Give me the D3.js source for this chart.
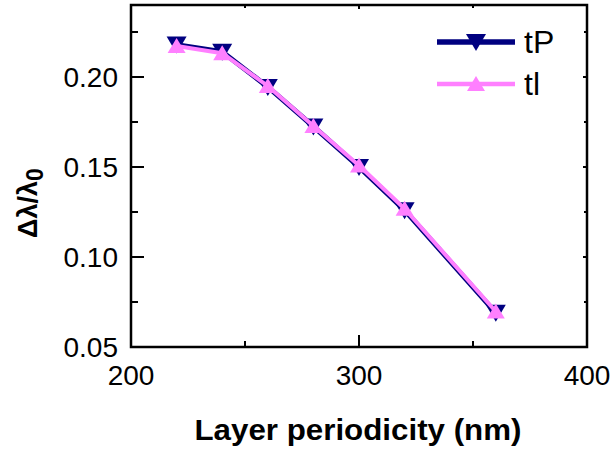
<!DOCTYPE html>
<html>
<head>
<meta charset="utf-8">
<script src="https://cdn.jsdelivr.net/npm/d3@7"></script>
<style>
  body { margin: 0; background: #fff; }
  text { font-family: "Liberation Sans", Arial, sans-serif; fill: #000; }
</style>
</head>
<body>
<svg id="chart" width="613" height="452"></svg>
<script>
// data
const periods = [220, 240, 260, 280, 300, 320, 360];
const tP = [0.2180, 0.2140, 0.1945, 0.1725, 0.1500, 0.1260, 0.0690];
const tl = [0.2172, 0.2132, 0.1950, 0.1728, 0.1508, 0.1268, 0.0697];
const xTicks = [200, 300, 400];
const xMinor = [250, 350];
const yTicks = [0.05, 0.10, 0.15, 0.20];
const yMinor = [0.075, 0.125, 0.175, 0.225];

const svg = d3.select("#chart");
const plotL = 131, plotR = 587, plotT = 5, plotB = 347;

const x = d3.scaleLinear().domain([200, 400]).range([plotL, plotR]);
const y = d3.scaleLinear().domain([0.05, 0.24]).range([plotB, plotT]);

// frame
svg.append("rect")
    .attr("x", plotL).attr("y", plotT)
    .attr("width", plotR - plotL).attr("height", plotB - plotT)
    .attr("fill", "none").attr("stroke", "#000").attr("stroke-width", 2.5);

// ticks (inward), with short mirrored ticks on top and right
const tickG = svg.append("g").attr("stroke", "#000").attr("stroke-width", 2);
xTicks.forEach(v => {
    tickG.append("line").attr("x1", x(v)).attr("x2", x(v)).attr("y1", plotB).attr("y2", plotB - 12);
    tickG.append("line").attr("x1", x(v)).attr("x2", x(v)).attr("y1", plotT).attr("y2", plotT + 4);
});
xMinor.forEach(v => {
    tickG.append("line").attr("x1", x(v)).attr("x2", x(v)).attr("y1", plotB).attr("y2", plotB - 6);
    tickG.append("line").attr("x1", x(v)).attr("x2", x(v)).attr("y1", plotT).attr("y2", plotT + 3);
});
yTicks.forEach(v => {
    tickG.append("line").attr("x1", plotL).attr("x2", plotL + 13).attr("y1", y(v)).attr("y2", y(v));
    tickG.append("line").attr("x1", plotR).attr("x2", plotR - 4).attr("y1", y(v)).attr("y2", y(v));
});
yMinor.forEach(v => {
    tickG.append("line").attr("x1", plotL).attr("x2", plotL + 7).attr("y1", y(v)).attr("y2", y(v));
    tickG.append("line").attr("x1", plotR).attr("x2", plotR - 3).attr("y1", y(v)).attr("y2", y(v));
});

// tick labels
svg.append("g").selectAll("text").data(xTicks).join("text")
    .attr("x", d => x(d)).attr("y", 385)
    .attr("text-anchor", "middle").attr("font-size", 28)
    .text(d => d);
svg.append("g").selectAll("text").data(yTicks).join("text")
    .attr("x", 118).attr("y", d => y(d)).attr("dy", "0.36em")
    .attr("text-anchor", "end").attr("font-size", 28)
    .text(d => d.toFixed(2));

// axis titles
svg.append("text")
    .attr("x", 358).attr("y", 440)
    .attr("text-anchor", "middle").attr("font-size", 29).attr("font-weight", "bold")
    .attr("textLength", 327).attr("lengthAdjust", "spacingAndGlyphs")
    .text("Layer periodicity (nm)");

const yTitle = svg.append("text")
    .attr("transform", "translate(37,203) rotate(-90)")
    .attr("text-anchor", "middle").attr("font-size", 27).attr("font-weight", "bold");
yTitle.append("tspan").text("Δλ/λ");
yTitle.append("tspan").attr("dy", 6).attr("font-size", 23).text("0");

// series
const line = d3.line().x((d, i) => x(periods[i])).y(d => y(d));
const downTri = "M-10,-8L10,-8L0,9Z";
const upTri = "M0,-8L9,7L-9,7Z";

const series = [
    { name: "tP", values: tP, color: "#000080", width: 5, marker: downTri },
    { name: "tl", values: tl, color: "#ff80ff", width: 4, marker: upTri }
];

series.forEach(s => {
    svg.append("path").datum(s.values)
        .attr("d", line).attr("fill", "none")
        .attr("stroke", s.color).attr("stroke-width", s.width)
        .attr("stroke-linejoin", "round");
    svg.append("g").selectAll("path").data(s.values).join("path")
        .attr("d", s.marker)
        .attr("transform", (d, i) => `translate(${x(periods[i])},${y(d)})`)
        .attr("fill", s.color);
});

// legend
const legendY = [42, 84];
series.forEach((s, i) => {
    const g = svg.append("g").attr("transform", `translate(0,${legendY[i]})`);
    g.append("line").attr("x1", 437).attr("x2", 515).attr("y1", 0).attr("y2", 0)
        .attr("stroke", s.color).attr("stroke-width", s.width + 0.5);
    g.append("path").attr("d", s.marker).attr("transform", "translate(476,0)").attr("fill", s.color);
    g.append("text").attr("x", 524).attr("y", 11).attr("font-size", 32).text(s.name);
});
</script>
</body>
</html>
